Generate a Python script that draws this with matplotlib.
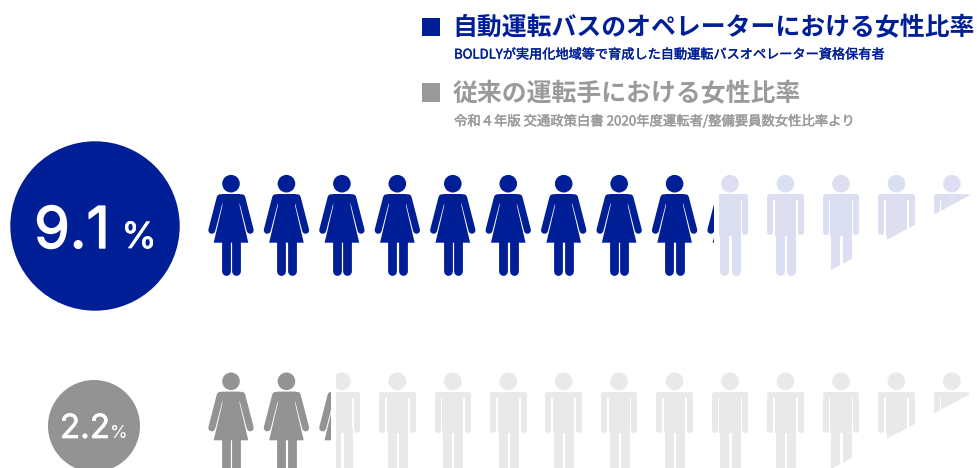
import matplotlib
matplotlib.use("Agg")
import matplotlib.pyplot as plt
import matplotlib.patheffects as pe
from matplotlib.patches import Rectangle, Polygon, Circle

plt.rcParams['font.family'] = ['Noto Sans CJK JP', 'DejaVu Sans']

# Data
rates = [9.1, 2.2]
rate_labels = ["9.1", "2.2"]
titles = ["自動運転バスのオペレーターにおける女性比率", "従来の運転手における女性比率"]
subtitles = ["BOLDLYが実用化地域等で育成した自動運転バスオペレーター資格保有者",
             "令和４年版 交通政策白書 2020年度運転者/整備要員数女性比率より"]
n_people = 14

# Colours per row
dark = ["#001E96", "#939393"]
light = ["#DBDFF1", "#E9E9E9"]
title_col = ["#001E96", "#9A9A9A"]

# Layout in pixels
PITCH = 55.45
X0 = 231
LEFT = 209
head_y = [183.7, 381.3]
cut_shift = [0, 199.5]
circle_x = [95, 94]
circle_y = [226, 426]
circle_r = [84.7, 46]

fig = plt.figure(figsize=(9.77, 4.68), dpi=100)
ax = fig.add_axes([0, 0, 1, 1])
PX = 72 / fig.dpi


def clipped(artist, x0, x1):
    artist.set_clip_path(Rectangle((x0, -10), x1 - x0, 500, transform=ax.transData))


def stroke(xs, ys, width, color, x0, x1):
    ln, = ax.plot(xs, ys, color=color, lw=width * PX, solid_capstyle='round',
                  solid_joinstyle='round', zorder=2)
    clipped(ln, x0, x1)


def draw_head(cx, cy, color, x0, x1):
    c = Circle((cx, cy), 8.8, fc=color, ec='none', zorder=2)
    ax.add_patch(c)
    clipped(c, x0, x1)


def draw_woman(cx, cy, color, x0, x1):
    draw_head(cx, cy, color, x0, x1)
    pts = [(-9.5, 10.3), (9.5, 10.3), (8.6, 22), (17.3, 59), (-17.3, 59), (-8.6, 22)]
    body = Polygon([(cx + a, cy + b) for a, b in pts], fc=color, ec='none', zorder=2)
    ax.add_patch(body)
    clipped(body, x0, x1)
    for s in (-1, 1):
        stroke([cx + s * 10.8, cx + s * 19.2], [cy + 14, cy + 46.6], 7, color, x0, x1)
        stroke([cx + s * 5.3, cx + s * 5.3], [cy + 57, cy + 87], 8.8, color, x0, x1)


def draw_man(cx, cy, color, x0, x1):
    draw_head(cx, cy, color, x0, x1)
    stroke([cx - 15.3, cx + 15.3], [cy + 13.3, cy + 13.3], 6, color, x0, x1)
    torso = Rectangle((cx - 10.6, cy + 12), 21.2, 40, fc=color, ec='none', zorder=2)
    ax.add_patch(torso)
    clipped(torso, x0, x1)
    for s in (-1, 1):
        stroke([cx + s * 15.3, cx + s * 15.3], [cy + 13.3, cy + 48.3], 6, color, x0, x1)
        stroke([cx + s * 5.6, cx + s * 5.6], [cy + 48, cy + 87], 9, color, x0, x1)


for r, rate in enumerate(rates):
    # the fill stops at the rate, men start just after it
    cut = LEFT + rate * PITCH
    for i in range(n_people):
        cx = X0 + PITCH * i
        draw_man(cx, head_y[r], light[r], cut + 5.5, 1000)
        draw_woman(cx, head_y[r], dark[r], 0, cut)

    # white wedge that fades the row out at lower right
    s = cut_shift[r]
    ax.add_patch(Polygon([(985, 186.5 + s), (985, 300 + s), (770, 300 + s), (770, 302.6 + s)],
                         fc='white', ec='none', zorder=3))

    ax.add_patch(Circle((circle_x[r], circle_y[r]), circle_r[r], fc=dark[r], ec='none', zorder=2))

# rate labels in the circles, thickened a little since Inter only comes in one weight here
big = [pe.withStroke(linewidth=1.0, foreground='white')]
small = [pe.withStroke(linewidth=0.5, foreground='white')]
ax.text(72, 248, rate_labels[0], family='Inter', fontsize=41.5,
        color='white', ha='center', va='baseline', zorder=4, path_effects=big)
ax.text(139, 248, "%", family='Inter', fontsize=26, color='white',
        ha='center', va='baseline', zorder=4, path_effects=small)
ax.text(85, 438, rate_labels[1], family='Inter', fontsize=24, color='white',
        ha='center', va='baseline', zorder=4, path_effects=small)
ax.text(119, 438, "%", family='Inter', fontsize=13, color='white',
        ha='center', va='baseline', zorder=4)

# legend block
title_y = [28, 94.5]
sub_y = [55, 121]
sub_size = [9.48, 9.6]
square_y = [17.5, 83]
for r in range(2):
    ax.add_patch(Rectangle((421.5, square_y[r]), 18, 18.5, fc=title_col[r], ec='none'))
    ax.text(452.5, title_y[r], titles[r], fontsize=17.9, weight='bold', color=title_col[r],
            ha='left', va='center')
    ax.text(454, sub_y[r], subtitles[r], fontsize=sub_size[r], color=title_col[r],
            ha='left', va='center', path_effects=[pe.withStroke(linewidth=0.3, foreground=title_col[r])])

ax.set_xlim(0, 977)
ax.set_ylim(468, 0)
ax.axis('off')

fig.savefig("out.png", dpi=100, facecolor='white')
